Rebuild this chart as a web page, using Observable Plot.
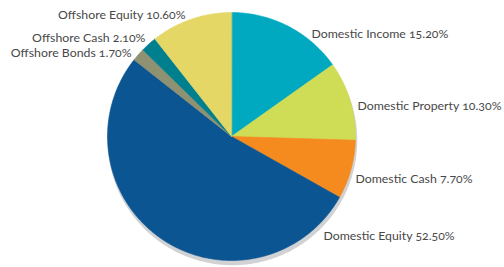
<!DOCTYPE html>
<html><head><meta charset="utf-8">
<script src="https://cdn.jsdelivr.net/npm/d3@7"></script>
<script src="https://cdn.jsdelivr.net/npm/@observablehq/plot@0.6"></script>
<style>html,body{margin:0;padding:0;background:#fff;overflow:hidden}</style>
</head><body><div id="chart"></div>
<script>
// ---- data (clockwise from 12 o'clock) ----
const categories = ["Domestic Income","Domestic Property","Domestic Cash","Domestic Equity","Offshore Bonds","Offshore Cash","Offshore Equity"];
const values = [15.2, 10.3, 7.7, 52.5, 1.7, 2.1, 10.6];
const valueLabels = ["15.20%","10.30%","7.70%","52.50%","1.70%","2.10%","10.60%"];
const colors = ["#00a9bf","#cfdc55","#f58a1f","#0b5592","#8e9172","#00808f","#e4d766"];
// label layout, in pie-radius units from the centre
const labelX = [0.645, 1.016, 1.0, 0.742, -0.806, -0.694, -0.371];
const labelY = [0.823, 0.242, -0.347, -0.806, 0.669, 0.790, 0.976];
const labelSide = ["start","start","start","start","end","end","end"];

const total = d3.sum(values);
const slices = [];
let acc = 0;
categories.forEach((c, i) => {
  const a0 = acc / total * 2 * Math.PI; acc += values[i];
  const a1 = acc / total * 2 * Math.PI;
  slices.push({cat: c, x: 0, y: 0});
  const n = Math.max(2, Math.ceil((a1 - a0) / (Math.PI / 360)));
  for (let k = 0; k <= n; k++) {
    const a = a0 + (a1 - a0) * k / n;
    slices.push({cat: c, x: Math.sin(a), y: Math.cos(a)});
  }
});
const shadow = d3.range(0, 721).map(k => ({x: Math.sin(k * Math.PI / 360), y: Math.cos(k * Math.PI / 360)}));
const labelData = categories.map((c, i) => ({label: c + " " + valueLabels[i], x: labelX[i], y: labelY[i], side: labelSide[i]}));

const R = 124, cx = 231, cy = 136, W = 504, H = 267;
const textOpts = {x: "x", y: "y", text: "label", fill: "#484848", fontSize: 12.3, fontFamily: "Lato", fontVariant: "oldstyle-nums"};
const chart = Plot.plot({
  width: W, height: H, margin: 0,
  x: {domain: [-cx / R, (W - cx) / R], axis: null},
  y: {domain: [-(H - cy) / R, cy / R], axis: null},
  color: {domain: categories, range: colors},
  style: {fontFamily: "Lato", background: "#fff"},
  marks: [
    Plot.line(shadow, {x: "x", y: "y", fill: "#d1d2d4", stroke: "#d1d2d4", curve: "linear-closed", dx: 1, dy: 4}),
    Plot.line(slices, {x: "x", y: "y", z: "cat", fill: "cat", stroke: "cat", strokeWidth: 0.6, curve: "linear-closed"}),
    Plot.text(labelData.filter(d => d.side === "start"), {...textOpts, textAnchor: "start"}),
    Plot.text(labelData.filter(d => d.side === "end"), {...textOpts, textAnchor: "end"})
  ]
});
document.getElementById("chart").appendChild(chart);
</script>
</body></html>
